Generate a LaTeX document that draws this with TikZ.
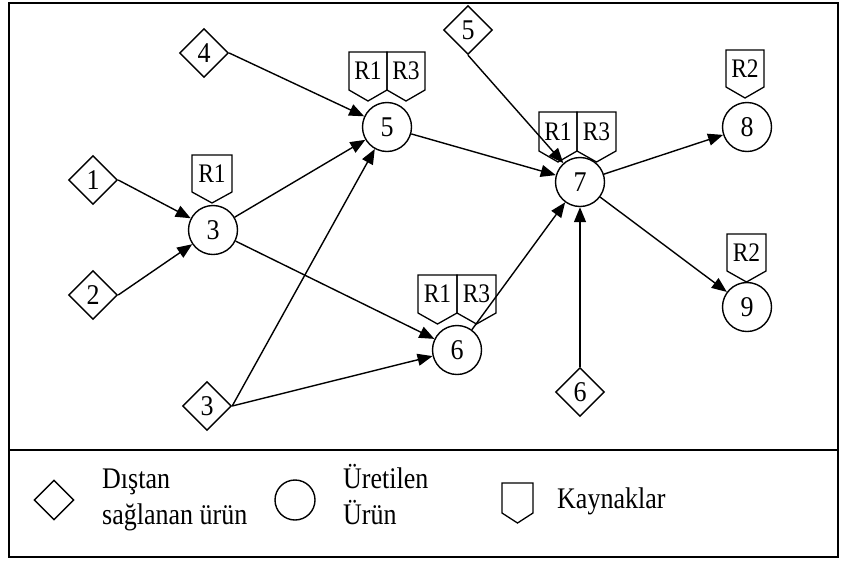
\documentclass[tikz,border=0pt]{standalone}
\usepackage{fontspec}
\setmainfont{Liberation Serif}
\usetikzlibrary{shapes.geometric,arrows.meta}

% text set slightly taller than wide
\newcommand{\tallx}[2]{\scalebox{1}[#1]{#2}}

\tikzset{
  urun/.style={circle, draw, line width=1.4pt, minimum size=49pt, inner sep=0pt,
    font=\fontsize{26}{30}\selectfont},
  dis/.style={diamond, draw, line width=1.4pt, minimum width=49pt, minimum height=49pt,
    inner sep=0pt, font=\fontsize{26}{30}\selectfont},
  akis/.style={line width=1.4pt, -{Triangle[length=15pt,width=12pt]}},
  tagline/.style={draw, line width=1.3pt, line join=miter},
  taglabel/.style={inner sep=0pt, font=\fontsize{23.5}{26}\selectfont},
  legtext/.style={inner sep=0pt, font=\fontsize{26}{31.5}\selectfont},
  frame/.style={draw, line width=1.6pt}
}

% resource tag: name, left x, top y, label, width, body height
\newcommand{\kaynak}[6]{%
  \draw[tagline] (#2,#3) -- ++(#5,0) -- ++(0,#6) -- ++(-#5/2,11) -- ++(-#5/2,-11) -- cycle;
  \path (#2,#3) ++(#5/2,#6/2) node[taglabel] (#1) {\tallx{1.14}{#4}};
}

\begin{document}
\begin{tikzpicture}[x=1pt, y=-1pt]
\useasboundingbox (0,0) rectangle (842,560);

% outer frame and legend separator
\draw[frame] (9,3) rectangle (838,557);
\coordinate (sepL) at (9,450);
\coordinate (sepR) at (838,450);
\draw[frame] (sepL) -- (sepR);

% externally supplied products
\node[dis] (d1) at (93,180) {\tallx{1.1}{1}};
\node[dis] (d2) at (93,295) {\tallx{1.1}{2}};
\node[dis] (d3) at (207,406) {\tallx{1.1}{3}};
\node[dis] (d4) at (204,53) {\tallx{1.1}{4}};
\node[dis] (d5) at (468,30) {\tallx{1.1}{5}};
\node[dis] (d6) at (580,392) {\tallx{1.1}{6}};

% produced products
\node[urun] (c3) at (213,230) {\tallx{1.1}{3}};
\node[urun] (c5) at (387,127) {\tallx{1.1}{5}};
\node[urun] (c6) at (457,350) {\tallx{1.1}{6}};
\node[urun] (c7) at (580,182) {\tallx{1.1}{7}};
\node[urun] (c8) at (747,127) {\tallx{1.1}{8}};
\node[urun] (c9) at (747,307) {\tallx{1.1}{9}};

% resources
\kaynak{k3a}{192}{155}{R1}{40}{37}
\kaynak{k5a}{349}{52}{R1}{38}{38}
\kaynak{k5b}{387}{52}{R3}{38}{38}
\kaynak{k6a}{418}{275}{R1}{39}{38}
\kaynak{k6b}{457}{275}{R3}{39}{38}
\kaynak{k7a}{539}{112}{R1}{38}{39}
\kaynak{k7b}{577}{112}{R3}{39}{39}
\kaynak{k8a}{726}{50}{R2}{38}{37}
\kaynak{k9a}{727}{234}{R2}{39}{37}

% flows
\draw[akis] (d1.east) -- (c3);
\draw[akis] (d2.east) -- (c3);
\draw[akis] (d4.east) -- (c5);
\draw[akis] (c3) -- (c5);
\draw[akis] (c3) -- (c6);
\draw[akis] (d3.east) -- (c5);
\draw[akis] (d3.east) -- (c6);
\draw[akis] (c5) -- (c7);
\draw[akis] (d5.south) -- (c7);
\draw[akis] (c6) -- (c7);
\draw[akis] (d6.north) -- (c7);
\draw[akis] (c7) -- (c8);
\draw[akis] (c7) -- (c9);

% legend
\node[dis, minimum width=40pt, minimum height=40pt] (legd) at (54,500) {};
\node[legtext, anchor=base west] (legdt) at (102,488)
  {\tallx{1.15}{\begin{tabular}[t]{@{}l@{}}Dıştan\\sağlanan ürün\end{tabular}}};
\node[circle, draw, line width=1.4pt, minimum size=40pt, inner sep=0pt] (legc) at (295,500) {};
\node[legtext, anchor=base west] (legct) at (343,488)
  {\tallx{1.15}{\begin{tabular}[t]{@{}l@{}}Üretilen\\Ürün\end{tabular}}};
\draw[tagline] (502,483) -- ++(31,0) -- ++(0,30) -- ++(-15.5,10) -- ++(-15.5,-10) -- cycle;
\node[legtext, anchor=base west] (legkt) at (557,508) {\tallx{1.15}{Kaynaklar}};
\end{tikzpicture}
\end{document}
